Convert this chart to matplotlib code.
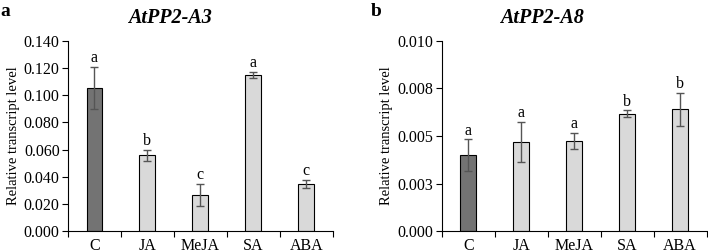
import matplotlib.pyplot as plt
import numpy as np
from matplotlib.ticker import FixedLocator, FixedFormatter

plt.rcParams['font.family'] = ['Liberation Serif', 'DejaVu Serif']

categories = ["C", "JA", "MeJA", "SA", "ABA"]

a3_values = [0.1052, 0.0557, 0.0265, 0.1152, 0.0346]
a3_errors = [0.0155, 0.0043, 0.0083, 0.0022, 0.0032]
a3_letters = ["a", "b", "c", "a", "c"]

a8_values = [0.0040, 0.00469, 0.00476, 0.00618, 0.00641]
a8_errors = [0.00083, 0.00105, 0.00042, 0.00017, 0.00087]
a8_letters = ["a", "a", "a", "b", "b"]

bar_colors = ["#737373", "#d9d9d9", "#d9d9d9", "#d9d9d9", "#d9d9d9"]

fig = plt.figure(figsize=(7.08, 2.52), dpi=100)


def panel(rect, values, errors, letters, yticks, ylabels, title, title_x, tag, tag_x):
    ax = fig.add_axes(rect)
    x = np.arange(len(categories))
    ax.bar(x, values, width=0.3, color=bar_colors, edgecolor="black", linewidth=0.8, zorder=2)
    ax.errorbar(x, values, yerr=errors, fmt="none", ecolor="#555555",
                elinewidth=1, capsize=3, capthick=1, zorder=3)
    ymax = yticks[-1]
    for xi, v, e, t in zip(x, values, errors, letters):
        ax.text(xi, v + e + ymax * 0.003, t, ha="center", va="bottom", fontsize=11.5)
    ax.set_xlim(-0.5, len(categories) - 0.5)
    ax.set_ylim(0, ymax)
    ax.yaxis.set_major_locator(FixedLocator(yticks))
    ax.yaxis.set_major_formatter(FixedFormatter(ylabels))
    ax.xaxis.set_major_locator(FixedLocator(np.arange(len(categories) + 1) - 0.5))
    ax.xaxis.set_major_formatter(FixedFormatter([""] * (len(categories) + 1)))
    ax.xaxis.set_minor_locator(FixedLocator(x))
    ax.xaxis.set_minor_formatter(FixedFormatter(categories))
    ax.tick_params(axis="x", which="major", direction="out", length=4, width=0.8)
    ax.tick_params(axis="x", which="minor", length=0, pad=5, labelsize=11.5)
    ax.tick_params(axis="y", direction="out", length=4, width=0.8, labelsize=11.5, pad=2)
    for s in ["top", "right"]:
        ax.spines[s].set_visible(False)
    ax.spines["left"].set_linewidth(0.8)
    ax.spines["bottom"].set_linewidth(0.8)
    ax.set_ylabel("Relative transcript level", fontsize=10.5, labelpad=3)
    fig.text(title_x, 0.93, title, ha="center", va="center", fontsize=14.5,
             fontweight="bold", fontstyle="italic")
    fig.text(tag_x, 0.955, tag, ha="left", va="center", fontsize=14, fontweight="bold")
    return ax


panel([0.096, 0.083, 0.374, 0.755], a3_values, a3_errors, a3_letters,
      [0, 0.02, 0.04, 0.06, 0.08, 0.10, 0.12, 0.14],
      ["0.000", "0.020", "0.040", "0.060", "0.080", "0.100", "0.120", "0.140"],
      "AtPP2-A3", 0.24, "a", 0.0)
panel([0.624, 0.083, 0.374, 0.755], a8_values, a8_errors, a8_letters,
      [0, 0.0025, 0.005, 0.0075, 0.01],
      ["0.000", "0.003", "0.005", "0.008", "0.010"],
      "AtPP2-A8", 0.766, "b", 0.523)

fig.savefig("out.png", dpi=100)
